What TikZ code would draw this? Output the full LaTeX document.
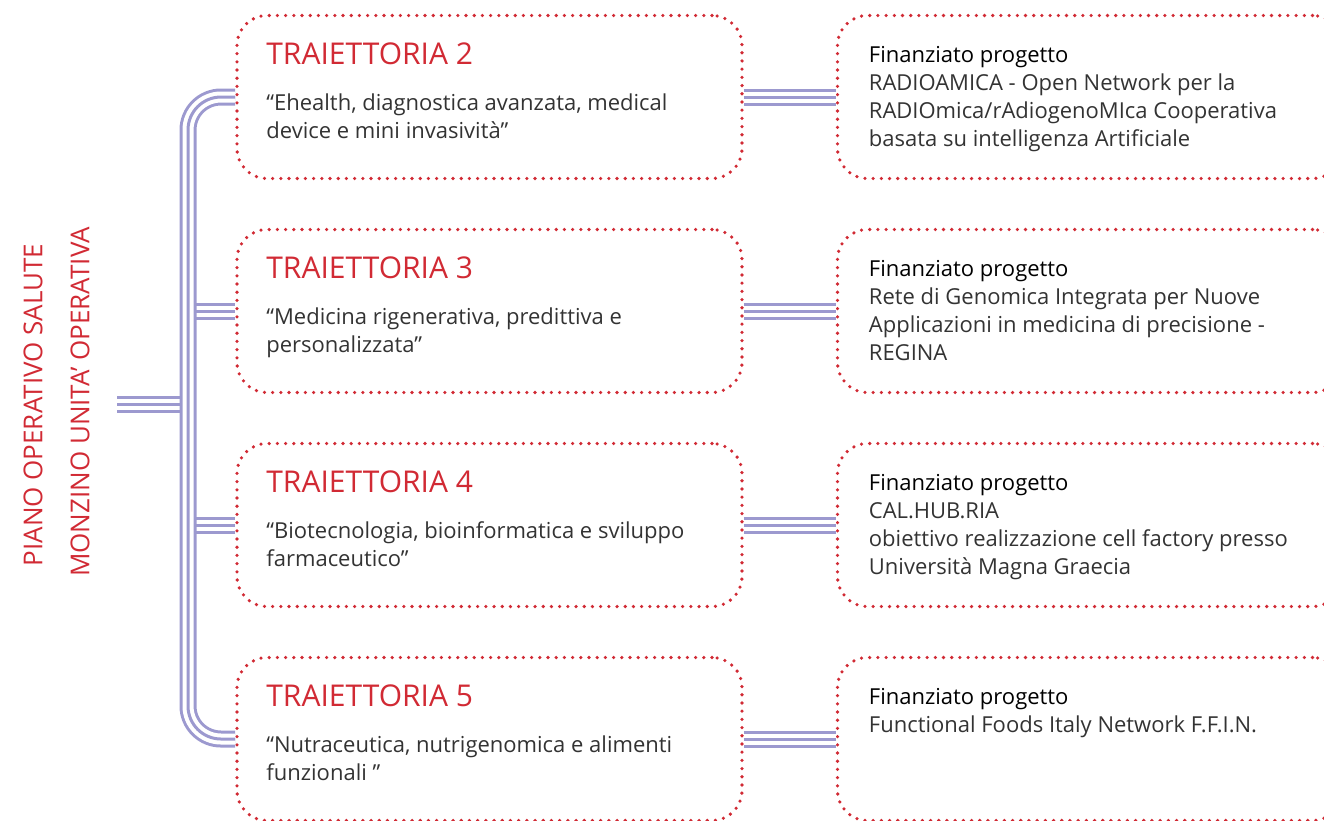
\documentclass[tikz,border=0pt]{standalone}
\usepackage{fontspec}
\setmainfont{Open Sans}[Ligatures=NoCommon]
\usetikzlibrary{positioning}

\definecolor{pored}{HTML}{D12A34}
\definecolor{polav}{HTML}{9C99CF}
\definecolor{potext}{HTML}{333333}

\tikzset{
  dotbox/.style={draw=pored, line width=3.6pt, line cap=round,
    dash pattern=on 0pt off 8.2pt, rounded corners=30pt,
    minimum width=505pt, minimum height=163pt, inner sep=0pt},
  tripleline/.style={draw=polav, line width=17pt,
    postaction={draw=white, line width=11pt},
    postaction={draw=polav, line width=3pt}},
  trtitle/.style={text=pored, inner sep=0pt, font=\fontsize{30}{34}\selectfont},
  trbody/.style={text=potext, inner sep=0pt, align=left, font=\fontsize{22}{28}\selectfont},
  vlabel/.style={text=pored, inner sep=0pt, rotate=90, font=\fontsize{26}{32}\selectfont},
}

\begin{document}
\begin{tikzpicture}[x=1pt,y=1pt]
\useasboundingbox (0,0) rectangle (1324,-820);
\clip (0,0) rectangle (1324,-820);

% side labels
\node[vlabel] (pos) at (33,-405) {PIANO OPERATIVO SALUTE};
\node[vlabel] (mon) at (80,-402) {MONZINO UNITA’ OPERATIVA};

% traiettorie
\node[dotbox] (t2) at (489.5,-97) {};
\node[dotbox] (t3) at (489.5,-311) {};
\node[dotbox] (t4) at (489.5,-525) {};
\node[dotbox] (t5) at (489.5,-739) {};

% progetti
\node[dotbox] (p2) at (1090,-97) {};
\node[dotbox] (p3) at (1090,-311) {};
\node[dotbox] (p4) at (1090,-525) {};
\node[dotbox] (p5) at (1090,-739) {};

\node[trtitle, anchor=base west] (t2t) at ([xshift=31pt,yshift=-51pt]t2.north west) {TRAIETTORIA 2};
\node[trtitle, anchor=base west] (t3t) at ([xshift=31pt,yshift=-51pt]t3.north west) {TRAIETTORIA 3};
\node[trtitle, anchor=base west] (t4t) at ([xshift=31pt,yshift=-51pt]t4.north west) {TRAIETTORIA 4};
\node[trtitle, anchor=base west] (t5t) at ([xshift=31pt,yshift=-51pt]t5.north west) {TRAIETTORIA 5};

\node[trbody, anchor=north west] (t2b) at ([xshift=31pt,yshift=-80pt]t2.north west)
  {“Ehealth, diagnostica avanzata, medical\\device e mini invasività”};
\node[trbody, anchor=north west] (t3b) at ([xshift=31pt,yshift=-80pt]t3.north west)
  {“Medicina rigenerativa, predittiva e\\personalizzata”};
\node[trbody, anchor=north west] (t4b) at ([xshift=31pt,yshift=-80pt]t4.north west)
  {“Biotecnologia, bioinformatica e sviluppo\\farmaceutico”};
\node[trbody, anchor=north west] (t5b) at ([xshift=31pt,yshift=-80pt]t5.north west)
  {“Nutraceutica, nutrigenomica e alimenti\\funzionali ”};

\node[trbody, anchor=north west] (p2b) at ([xshift=33pt,yshift=-32pt]p2.north west)
  {\textcolor{black}{Finanziato progetto}\\RADIOAMICA - Open Network per la\\RADIOmica/rAdiogenoMIca Cooperativa\\basata su intelligenza Artificiale};
\node[trbody, anchor=north west] (p3b) at ([xshift=33pt,yshift=-32pt]p3.north west)
  {\textcolor{black}{Finanziato progetto}\\Rete di Genomica Integrata per Nuove\\Applicazioni in medicina di precisione -\\REGINA};
\node[trbody, anchor=north west] (p4b) at ([xshift=33pt,yshift=-32pt]p4.north west)
  {\textcolor{black}{Finanziato progetto}\\CAL.HUB.RIA\\obiettivo realizzazione cell factory presso\\Università Magna Graecia};
\node[trbody, anchor=north west] (p5b) at ([xshift=33pt,yshift=-32pt]p5.north west)
  {\textcolor{black}{Finanziato progetto}\\Functional Foods Italy Network F.F.I.N.};

% connectors
\coordinate (root) at (117,-404);
\coordinate (trunk) at (188,-404);
\draw[tripleline] (root) -- (trunk);
\draw[tripleline] (t3.west) -- (t3.west -| trunk);
\draw[tripleline] (t4.west) -- (t4.west -| trunk);
\draw[tripleline, rounded corners=33pt] (t2.west) -| (trunk) |- (t5.west);

\draw[tripleline] (t2) -- (p2);
\draw[tripleline] (t3) -- (p3);
\draw[tripleline] (t4) -- (p4);
\draw[tripleline] (t5) -- (p5);
\end{tikzpicture}
\end{document}
